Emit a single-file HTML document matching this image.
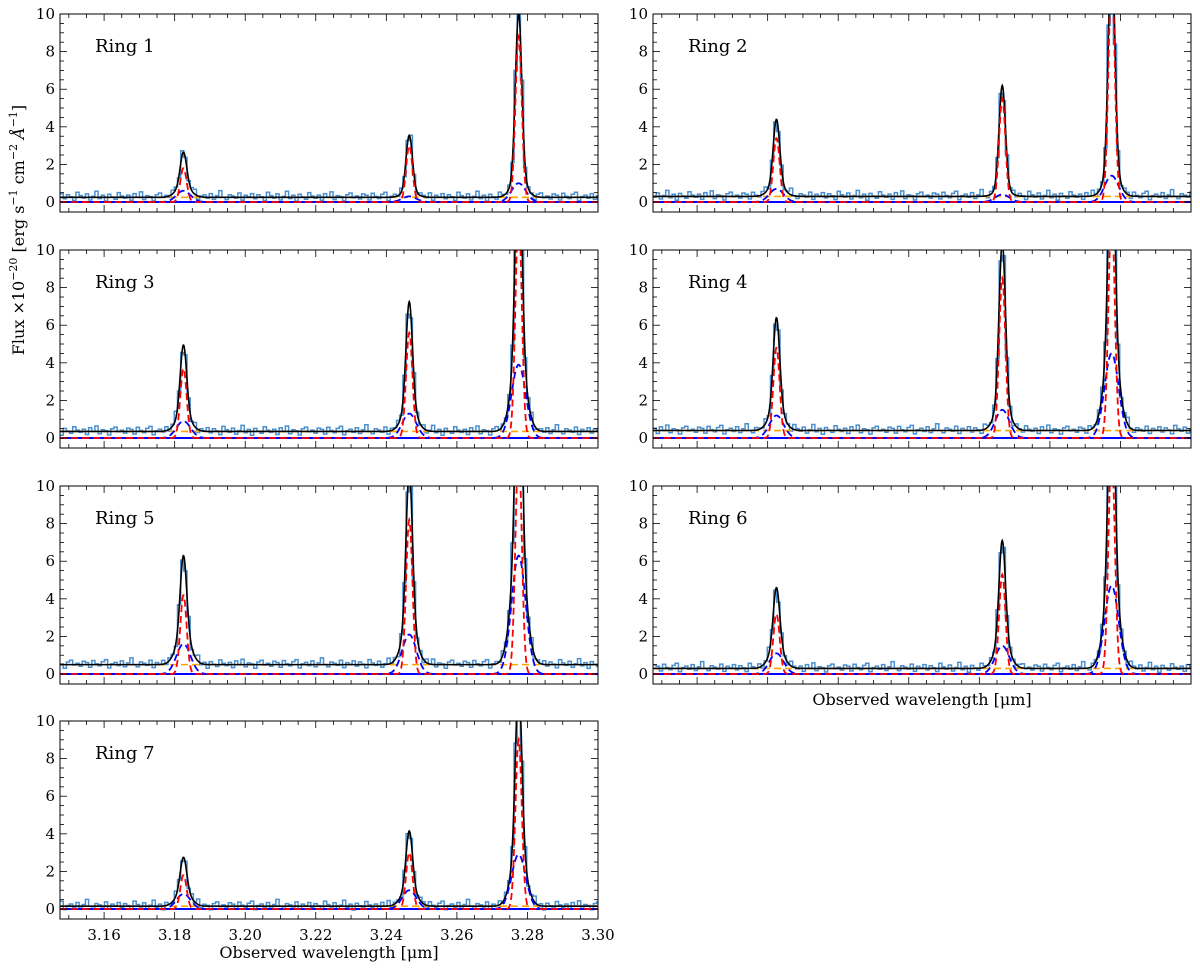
<!DOCTYPE html>
<html><head><meta charset="utf-8">
<style>
body{margin:0;background:#fff;}
svg{display:block;font-family:"DejaVu Serif","Liberation Serif",serif;}
</style></head>
<body>
<svg id="fig" width="1200" height="970" viewBox="0 0 1200 970"></svg>
<script>
// Per-ring values: continuum, narrow (red) amplitudes, broad (blue) amplitudes for the 3 lines
const ringNames = ["Ring 1","Ring 2","Ring 3","Ring 4","Ring 5","Ring 6","Ring 7"];
const lineCenters = [3.1825, 3.2465, 3.2775];
const continuum = [0.25, 0.3, 0.35, 0.4, 0.5, 0.3, 0.15];
const narrowAmp = [
  [1.8, 3.0, 8.8],
  [3.4, 5.5, 12.0],
  [3.7, 5.6, 12.0],
  [4.8, 8.5, 12.0],
  [4.2, 8.2, 12.0],
  [3.2, 5.3, 12.0],
  [1.8, 3.0, 9.0]
];
const broadAmp = [
  [0.6, 0.3, 1.0],
  [0.7, 0.4, 1.4],
  [0.9, 1.3, 3.9],
  [1.2, 1.5, 4.5],
  [1.6, 2.1, 6.3],
  [1.1, 1.5, 4.7],
  [0.8, 1.0, 2.9]
];
const narrowSigma = 0.0009;
const broadSigma = 0.002;
const noise = [0.2,-0.08,0.14,0.03,-0.17,0.27,0.09,-0.04,0.18,-0.14,0.05,0.32,-0.07,0.11,-0.2,0.16,0.02,-0.1,0.25,0.07,-0.05,0.12,-0.16,0.2,0.0,0.29,-0.12,0.09,0.04,-0.19,0.14,0.23,-0.02,0.07,-0.09,0.18,0.11,-0.14,0.22,0.05,-0.07,0.16,0.27,-0.18,0.04,0.12,-0.05,0.2,-0.11,0.09,0.36,0.0,-0.12,0.14,0.07,-0.04,0.23,-0.16,0.11,0.02];
const xTicks = [3.16,3.18,3.20,3.22,3.24,3.26,3.28,3.30];
const yTicks = [0,2,4,6,8,10];

const svg = document.getElementById('fig');
const NS = 'http://www.w3.org/2000/svg';
const XMIN = 3.1475, XMAX = 3.30, YMIN = -0.53, YMAX = 10;
const cols = [60, 653], W = 538, rows = [14, 250, 486, 721], H = 198;

function mk(tag, attrs, parent){
  const e = document.createElementNS(NS, tag);
  for (const k in attrs) e.setAttribute(k, attrs[k]);
  (parent||svg).appendChild(e); return e;
}
function gauss(x, c, a, s){ return a*Math.exp(-0.5*((x-c)/s)**2); }

ringNames.forEach((name, r) => {
  const px = cols[r%2], py = rows[Math.floor(r/2)];
  const sx = x => px + (x-XMIN)/(XMAX-XMIN)*W;
  const sy = y => py + H - (y-YMIN)/(YMAX-YMIN)*H;
  const g = mk('g', {});
  
  
  const cid = 'clip' + r;
  const cp = mk('clipPath', {id: cid}, g);
  mk('rect', {x: px, y: py, width: W, height: H}, cp);
  const plot = mk('g', {'clip-path': 'url(#' + cid + ')'}, g);

  const model = (x, which) => {
    let v = 0;
    for (let k=0;k<3;k++){
      if (which!=='b') v += gauss(x, lineCenters[k], narrowAmp[r][k], narrowSigma);
      if (which!=='n') v += gauss(x, lineCenters[k], broadAmp[r][k], broadSigma);
    }
    return v;
  };
  const bin = 0.0009;
  let d = '';
  let i = 0;
  for (let x = XMIN; x < XMAX + bin; x += bin, i++){
    const xc = x + bin/2;
    const v = continuum[r] + model(xc) + noise[(i + r*7) % noise.length];
    d += (i===0 ? 'M' : 'L') + sx(x).toFixed(1) + ',' + sy(v).toFixed(1) + 'L' + sx(x+bin).toFixed(1) + ',' + sy(v).toFixed(1);
  }
  const data = mk('path', {d, fill:'none', stroke:'#4a90d0', 'stroke-width':1.5}, plot);
  
  

  const zl = mk('line', {x1:px, x2:px+W, y1:sy(0), y2:sy(0), stroke:'#0000ff', 'stroke-width':2}, plot);
  
  

  const cl = mk('line', {x1:px, x2:px+W, y1:sy(continuum[r]), y2:sy(continuum[r]), stroke:'#ffa500', 'stroke-width':1.6, 'stroke-dasharray':'7,4'}, plot);
  
  

  const curve = (f) => {
    let s = '';
    const n = 1200;
    for (let j=0;j<=n;j++){
      const x = XMIN + (XMAX-XMIN)*j/n;
      s += (j?'L':'M') + sx(x).toFixed(2) + ',' + sy(f(x)).toFixed(2);
    }
    return s;
  };
  const tot = mk('path', {d: curve(x => continuum[r] + model(x)), fill:'none', stroke:'#000', 'stroke-width':1.6}, plot);
  
  
  const br = mk('path', {d: curve(x => model(x,'b')), fill:'none', stroke:'#0000ff', 'stroke-width':1.8, 'stroke-dasharray':'7,4'}, plot);
  
  
  const nr = mk('path', {d: curve(x => model(x,'n')), fill:'none', stroke:'#ff0000', 'stroke-width':1.8, 'stroke-dasharray':'7,4'}, plot);
  
  

  mk('rect', {x:px, y:py, width:W, height:H, fill:'none', stroke:'#000', 'stroke-width':1}, g);
  for (let t = 3.15; t <= 3.3001; t += 0.005){
    const major = Math.abs(Math.round(t*100) - t*100) < 1e-6 && Math.round(t*100)%2===0;
    const len = major ? 7 : 4;
    const x = sx(t);
    if (x < px || x > px+W) continue;
    mk('line', {x1:x, x2:x, y1:py+H, y2:py+H-len, stroke:'#000', 'stroke-width':0.8}, g);
    mk('line', {x1:x, x2:x, y1:py, y2:py+len, stroke:'#000', 'stroke-width':0.8}, g);
  }
  for (let t = 0; t <= 10.001; t += 0.5){
    const major = Math.abs(t/2 - Math.round(t/2)) < 1e-6;
    const len = major ? 7 : 4, y = sy(t);
    mk('line', {x1:px, x2:px+len, y1:y, y2:y, stroke:'#000', 'stroke-width':0.8}, g);
    mk('line', {x1:px+W, x2:px+W-len, y1:y, y2:y, stroke:'#000', 'stroke-width':0.8}, g);
  }
  yTicks.forEach(t => {
    const tx = mk('text', {x:px-5, y:sy(t)+5, 'text-anchor':'end', 'font-size':15}, g);
    tx.textContent = t;
    
    
  });
  if (r === 6){
    xTicks.forEach(t => {
      const tx = mk('text', {x:sx(t), y:py+H+21, 'text-anchor':'middle', 'font-size':15}, g);
      tx.textContent = t.toFixed(2);
      
      
    });
  }
  const lb = mk('text', {x:px+35, y:py+38, 'font-size':18}, g);
  lb.textContent = name;
  
  
});

const xt1 = mk('text', {x:329, y:958, 'text-anchor':'middle', 'font-size':16});
xt1.textContent = 'Observed wavelength [\u03BCm]';


const xt2 = mk('text', {x:922, y:705, 'text-anchor':'middle', 'font-size':16});
xt2.textContent = 'Observed wavelength [\u03BCm]';


const yt = mk('text', {x:0, y:0, 'text-anchor':'middle', 'font-size':16, transform:'translate(24,230) rotate(-90)'});
yt.innerHTML = 'Flux \u00D710<tspan dy="-7" font-size="11">\u221220</tspan><tspan dy="7"> [erg s</tspan><tspan dy="-7" font-size="11">\u22121</tspan><tspan dy="7"> cm</tspan><tspan dy="-7" font-size="11">\u22122</tspan><tspan dy="7" font-style="italic"> \u00C5</tspan><tspan dy="-7" font-size="11">\u22121</tspan><tspan dy="7">]</tspan>';


</script>
</body></html>
